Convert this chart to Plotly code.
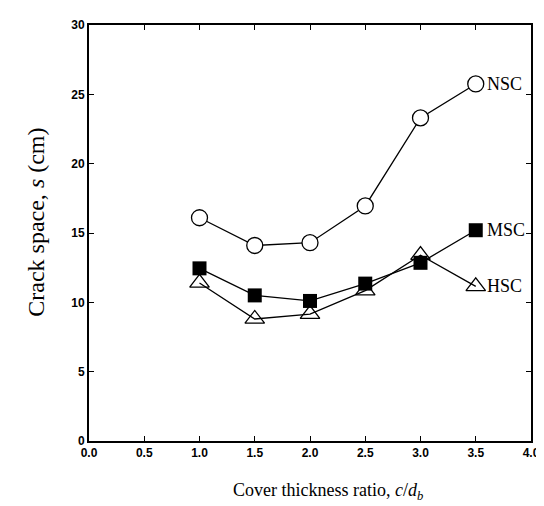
import plotly.graph_objects as go

x_vals = [1.0, 1.5, 2.0, 2.5, 3.0, 3.5]
nsc = [16.1, 14.1, 14.3, 16.95, 23.3, 25.75]
msc = [12.45, 10.5, 10.1, 11.35, 12.85, 15.2]
hsc = [11.4, 8.8, 9.15, 10.85, 13.4, 11.15]
series_names = ["NSC", "MSC", "HSC"]
x_ticks = [0.0, 0.5, 1.0, 1.5, 2.0, 2.5, 3.0, 3.5, 4.0]
x_tick_text = ["0.0", "0.5", "1.0", "1.5", "2.0", "2.5", "3.0", "3.5", "4.0"]
y_ticks = [0, 5, 10, 15, 20, 25, 30]

fig = go.Figure()
line = dict(color="black", width=1.3)
fig.add_trace(go.Scatter(x=x_vals, y=hsc, mode="lines+markers", name="HSC", line=line,
                         marker=dict(symbol="triangle-up-open", size=17, color="black",
                                     line=dict(width=1.3, color="black")),
                         cliponaxis=False))
fig.add_trace(go.Scatter(x=x_vals, y=msc, mode="lines+markers", name="MSC", line=line,
                         marker=dict(symbol="square", size=14, color="black"),
                         cliponaxis=False))
fig.add_trace(go.Scatter(x=x_vals, y=nsc, mode="lines+markers", name="NSC", line=line,
                         marker=dict(symbol="circle", size=16, color="white",
                                     line=dict(width=1.3, color="black")),
                         cliponaxis=False))

for name, ys in zip(series_names, [nsc, msc, hsc]):
    fig.add_annotation(x=x_vals[-1], y=ys[-1], text=name, showarrow=False,
                       xanchor="left", yanchor="middle", xshift=9,
                       font=dict(family="Liberation Serif", size=18, color="black"))

# axis titles as annotations for precise placement
fig.add_annotation(xref="paper", yref="paper", x=0.54, y=-0.122,
                   text="Cover thickness ratio, <i>c</i>/<i>d</i><sub><i>b</i></sub>",
                   showarrow=False, xanchor="center", yanchor="middle",
                   font=dict(family="Liberation Serif", size=18, color="black"))
fig.add_annotation(xref="paper", yref="paper", x=-0.12, y=0.527,
                   text="Crack space, <i>s</i> (cm)", textangle=-90,
                   showarrow=False, xanchor="center", yanchor="middle",
                   font=dict(family="Liberation Serif", size=24, color="black"))

axis_common = dict(showline=True, linecolor="black", linewidth=2, mirror="ticks",
                   ticks="inside", ticklen=5, tickwidth=1, tickcolor="black",
                   showgrid=False, zeroline=False,
                   tickfont=dict(family="Liberation Sans", size=12, color="black", weight="bold"))

fig.update_xaxes(range=[0, 4], tickvals=x_ticks, ticktext=x_tick_text, **axis_common)
fig.update_yaxes(range=[0, 30], tickvals=y_ticks, **axis_common)

fig.update_layout(width=544, height=506, showlegend=False,
                  margin=dict(l=81, r=21, t=10, b=73),
                  plot_bgcolor="white", paper_bgcolor="white")

fig.write_html("out.html")
